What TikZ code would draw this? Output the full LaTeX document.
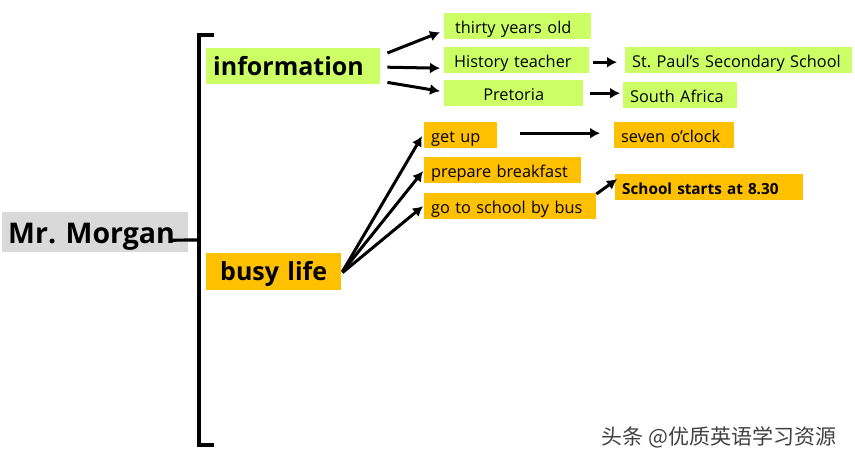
\documentclass[tikz,border=0pt]{standalone}
\usepackage{fontspec}
\setmainfont{Open Sans}
\newfontfamily\cjk{Noto Sans CJK SC}
\usetikzlibrary{
    positioning,
    arrows.meta
}
\definecolor{leafgreen}{HTML}{CCFF66}
\definecolor{leafyellow}{HTML}{FFC000}
\definecolor{rootgray}{HTML}{D9D9D9}
\frenchspacing

\begin{document}
\begin{tikzpicture}[x=1pt,y=-1pt]

    % --- Estilos ---
    \tikzset{
        % caixa principal
        main_box/.style={
            anchor=north west,
            inner xsep=7pt,
            inner ysep=0pt,
            font=\fontsize{25}{29}\selectfont\bfseries
        },
        % caixas das folhas
        leaf_box/.style={
            anchor=north west,
            inner xsep=7pt,
            inner ysep=0pt,
            minimum height=26pt,
            text height=16pt,
            text depth=2pt,
            font=\fontsize{16.3}{19}\selectfont
        },
        % setas
        map_arrow/.style={
            -{Latex[length=10pt,width=11pt]},
            line width=3pt,
            draw=black
        }
    }

    \useasboundingbox (0,0) rectangle (855,462);

    % --- Nó raiz ---
    \node[main_box, fill=rootgray, minimum width=186pt, minimum height=40pt,
          font=\fontsize{28.5}{32}\selectfont\bfseries, inner xsep=6pt,
          text height=26pt, text depth=4pt,
          text width=174pt, align=left] (morgan) at (2,212) {Mr. Morgan};

    % --- Chave ---
    \coordinate (bracetop) at (214,35);
    \coordinate (bracebot) at (214,445);
    \coordinate (bracemid) at (199,240);
    \draw[line width=3.2pt] (bracetop) -- (199,35) -- (199,445) -- (bracebot);
    \draw[line width=3.2pt] ([xshift=-19pt,yshift=-8pt]morgan.east) -- (bracemid);

    % --- Ramos ---
    \node[main_box, fill=leafgreen, minimum width=174pt, minimum height=36pt,
          text width=160pt, align=left] (info) at (206,48) {information};
    \node[main_box, fill=leafyellow, minimum width=135pt, minimum height=37pt,
          text height=20pt, text depth=3pt,
          inner xsep=14pt, text width=107pt, align=left] (busy) at (206,253) {busy life};

    % --- Folhas de information ---
    \node[leaf_box, fill=leafgreen, text width=125pt, align=left, inner xsep=11pt,
          minimum width=139pt] (age) at (444,13) {thirty years old};
    \node[leaf_box, fill=leafgreen, text width=125pt, align=left, inner xsep=10pt,
          minimum width=139pt] (job) at (444,47) {History teacher};
    \node[leaf_box, fill=leafgreen, text width=125pt, align=center,
          minimum width=139pt] (city) at (444,80) {Pretoria};
    \node[leaf_box, fill=leafgreen, text width=213pt, align=left,
          minimum width=227pt] (school) at (625,47) {St. Paul's Secondary School};
    \node[leaf_box, fill=leafgreen, text width=100pt, align=left, inner xsep=6pt,
          minimum width=114pt] (country) at (623,82) {South Africa};

    % --- Folhas de busy life ---
    \node[leaf_box, fill=leafyellow, text width=59pt, align=left,
          minimum width=73pt] (getup) at (424,122) {get up};
    \node[leaf_box, fill=leafyellow, text width=106pt, align=left,
          minimum width=120pt] (seven) at (614,122) {seven o'clock};
    \node[leaf_box, fill=leafyellow, text width=143pt, align=left, inner xsep=6pt,
          minimum width=157pt] (breakfast) at (424,157) {prepare breakfast};
    \node[leaf_box, fill=leafyellow, text width=158pt, align=left, inner xsep=6pt,
          minimum width=172pt] (bus) at (424,193) {go to school by bus};
    \node[leaf_box, fill=leafyellow, text width=174pt, align=left, inner xsep=6pt,
          font=\fontsize{15.3}{18}\selectfont\bfseries,
          minimum width=188pt] (starts) at (615,174) {School starts at 8.30};

    % --- Setas ---
    \draw[map_arrow] ([xshift=7pt,yshift=-5pt]info.north east) -- ([xshift=-4pt,yshift=-6pt]age.west);
    \draw[map_arrow] ([xshift=7pt,yshift=-1pt]info.east) -- ([xshift=-4pt,yshift=-8pt]job.west);
    \draw[map_arrow] ([xshift=7pt,yshift=2pt]info.south east) -- ([xshift=-4pt,yshift=2pt]city.west);
    \draw[map_arrow] ([xshift=4pt,yshift=-2pt]job.east) -- ([xshift=-8pt,yshift=-2pt]school.west);
    \draw[map_arrow] ([xshift=7pt]city.east) -- ([xshift=-3pt,yshift=2pt]country.west);
    \draw[map_arrow] ([xshift=23pt,yshift=2pt]getup.east) -- ([xshift=-14pt,yshift=2pt]seven.west);
    \draw[map_arrow] ([xshift=1pt]busy.east) -- ([xshift=-2pt,yshift=-1pt]getup.west);
    \draw[map_arrow] ([xshift=1pt]busy.east) -- ([xshift=-1pt,yshift=-1pt]breakfast.west);
    \draw[map_arrow] ([xshift=1pt,yshift=-1pt]busy.east) -- ([xshift=-1pt]bus.west);
    \draw[map_arrow] ([yshift=-1pt]bus.north east) -- ([xshift=2pt,yshift=8pt]starts.west);

    % --- Marca d'água ---
    \node[anchor=west, text=black!75, font=\cjk\fontsize{21}{24}\selectfont] (mark) at (598,437) {头条 @优质英语学习资源};

\end{tikzpicture}
\end{document}
